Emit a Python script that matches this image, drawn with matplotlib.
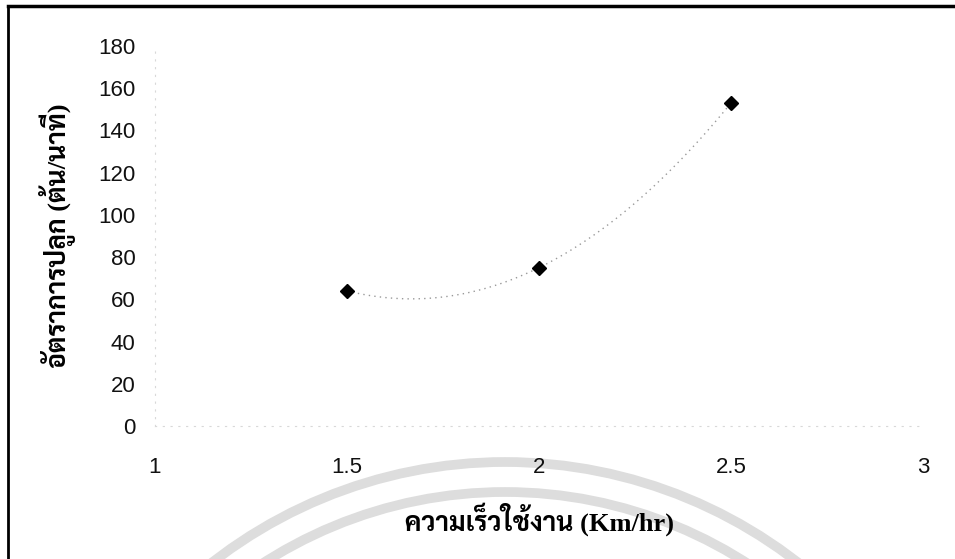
import matplotlib
matplotlib.use("Agg")
import matplotlib.pyplot as plt
import numpy as np
from matplotlib.patches import Arc

speed = [1.5, 2.0, 2.5]
rate = [64, 75, 153]
x_ticks = [1, 1.5, 2, 2.5, 3]
y_ticks = [0, 20, 40, 60, 80, 100, 120, 140, 160, 180]
x_title = "ความเร็วใช้งาน (Km/hr)"
y_title = "อัตราการปลูก (ต้น/นาที)"

W, H = 955, 559
fig = plt.figure(figsize=(W / 100, H / 100), dpi=100)

# page layer: frame lines + faint watermark of the scanned page
bg = fig.add_axes([0, 0, 1, 1], zorder=0)
bg.set_xlim(0, W)
bg.set_ylim(H, 0)
bg.axis("off")
for r in (477, 447):
    bg.add_patch(Arc((505, 939), 2 * r, 2 * r, theta1=180, theta2=360,
                     color="#dddddd", lw=7))
bg.plot([8, W], [6, 6], color="black", lw=2.5)
bg.plot([8, 8], [6, H], color="black", lw=2)

ax = fig.add_axes([0.1623, 0.2379, 0.8042, 0.6798], zorder=1)
ax.patch.set_alpha(0)

# 2nd order polynomial trendline (as in the Excel chart)
coef = np.polyfit(speed, rate, 2)
xs = np.linspace(min(speed), max(speed), 200)
ax.plot(xs, np.polyval(coef, xs), linestyle=(0, (1, 3)), color="#999999", lw=1)
ax.plot(speed, rate, "D", color="black", markersize=7, zorder=3)

ax.set_xlim(1, 3)
ax.set_ylim(0, 180)
ax.set_xticks(x_ticks)
ax.set_xticklabels([f"{t:g}" for t in x_ticks])
ax.set_yticks(y_ticks)
for side in ("top", "right"):
    ax.spines[side].set_visible(False)
for side in ("left", "bottom"):
    ax.spines[side].set_color("#d8d8d8")
    ax.spines[side].set_linestyle((0, (1, 6)))
    ax.spines[side].set_linewidth(0.8)
ax.tick_params(length=0, labelsize=16, colors="#111111")
for lab in ax.get_xticklabels() + ax.get_yticklabels():
    lab.set_family("Liberation Sans")
ax.tick_params(axis="y", pad=14)
ax.tick_params(axis="x", pad=22)

ax.set_xlabel(x_title, family=["Liberation Serif", "Sarabun"], fontweight="bold",
              fontsize=19, labelpad=18)
ax.set_ylabel(y_title, family=["Liberation Serif", "Sarabun"], fontweight="bold",
              fontsize=19, labelpad=16)

fig.savefig("out.png")
